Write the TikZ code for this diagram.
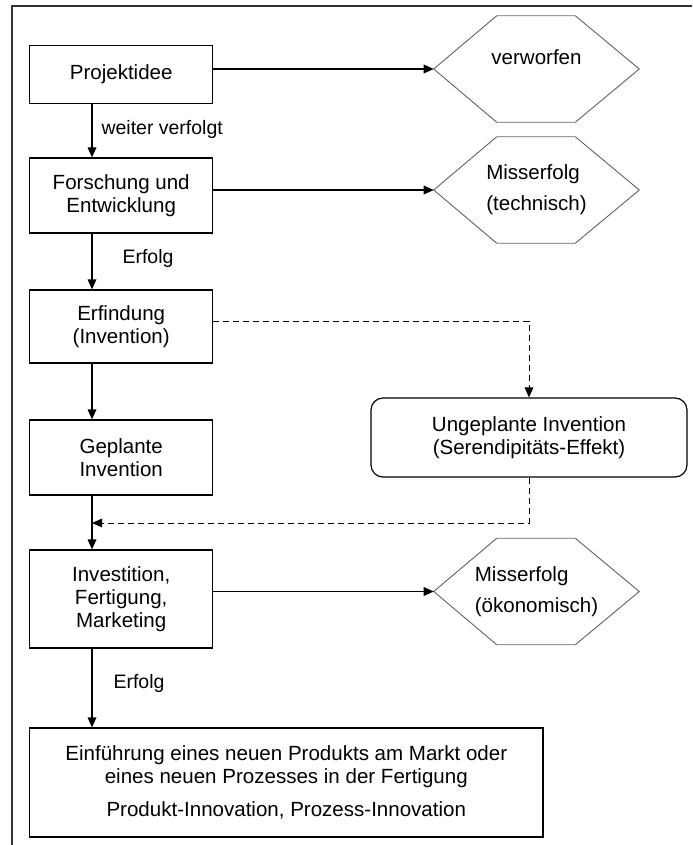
\documentclass[tikz,border=0pt]{standalone}
\usepackage{fontspec}
\setmainfont{Liberation Sans}
\usetikzlibrary{arrows.meta}

\begin{document}
\begin{tikzpicture}[x=0.75pt,y=-0.75pt,
  txt/.style={font=\fontsize{15.4}{17.25}\selectfont},
  lbl/.style={font=\fontsize{14.6}{17}\selectfont, anchor=west, inner sep=0pt},
  box/.style={txt, draw=black, line width=0.9pt, minimum width=137.25pt,
    align=center, inner sep=0pt},
  hexa/.style={txt, minimum width=153.75pt, minimum height=79.5pt,
    align=left, inner sep=0pt},
  hexline/.style={draw=black!60, line width=0.7pt},
  roundbox/.style={txt, draw=black, line width=0.9pt, rounded corners=9pt,
    minimum width=237pt, minimum height=59.25pt, align=center, inner sep=0pt},
  arr/.style={draw=black, line width=0.9pt, -{Triangle[length=7.5pt,width=6.5pt]}},
  dasharr/.style={draw=black, line width=0.75pt, dash pattern=on 4.5pt off 3pt,
    -{Triangle[length=7.5pt,width=6.5pt]}},
  frame/.style={draw=black!80, line width=1pt}
]
\useasboundingbox (0,0) rectangle (692,845);

% outer frame (left and top edges)
\draw[frame] (12,845) -- (12,6) -- (692,6);

% main process column
\node[box, minimum height=43.2pt] (idee) at (121.2,74.5) {Projektidee};
\node[box, minimum height=56.25pt] (fue) at (121.2,195.5) {Forschung und\\Entwicklung};
\node[box, minimum height=54.75pt] (erf) at (121.2,326.5) {Erfindung\\(Invention)};
\node[box, minimum height=56.25pt] (gepl) at (121.2,457.5) {Geplante\\Invention};
\node[box, minimum height=73.5pt] (inv) at (121.2,599) {Investition,\\Fertigung,\\Marketing};
\node[box, minimum width=385pt, minimum height=81.75pt] (markt) at (286.3,782.5)
  {Einführung eines neuen Produkts am Markt oder\\eines neuen Prozesses in der Fertigung\\[8pt]Produkt-Innovation, Prozess-Innovation};

% outcomes (hexagon outlines are drawn around the text nodes below)
\node[hexa] (verw) at (536.5,69) {verworfen\\[-4pt]\strut};
\node[hexa] (mtech) at (536.5,190) {Misserfolg\\[6pt](technisch)};
\node[hexa] (moek) at (536.5,591.5) {Misserfolg\\[6pt](ökonomisch)};
\node[roundbox] (ungepl) at (529,437.5) {Ungeplante Invention\\(Serendipitäts-Effekt)};

\foreach \h in {verw,mtech,moek}
  \draw[hexline] (\h.west) -- ([xshift=47.25pt]\h.north west)
    -- ([xshift=-48pt]\h.north east) -- (\h.east)
    -- ([xshift=-48pt]\h.south east) -- ([xshift=47.25pt]\h.south west) -- cycle;

% helper points on the main flow line
\coordinate (spine) at (92,0);
\coordinate (merge) at (92,523);

% vertical flow
\draw[arr] (idee.south -| spine) -- node[lbl, xshift=6.75pt, pos=0.48] {weiter verfolgt} (fue.north -| spine);
\draw[arr] (fue.south -| spine) -- node[lbl, xshift=22.5pt, pos=0.45] {Erfolg} (erf.north -| spine);
\draw[arr] (erf.south -| spine) -- (gepl.north -| spine);
\draw[arr] (gepl.south -| spine) -- (inv.north -| spine);
\draw[arr] (inv.south -| spine) -- node[lbl, xshift=15.75pt, pos=0.44] {Erfolg} (markt.north -| spine);

% branches to the outcomes
\draw[arr] (verw.west -| idee.east) -- (verw.west);
\draw[arr] (mtech.west -| fue.east) -- (mtech.west);
\draw[arr] (moek.west -| inv.east) -- (moek.west);

% unplanned invention path
\draw[dasharr] ([yshift=4pt]erf.east) -| (ungepl.north);
\draw[dasharr] (ungepl.south) |- (merge);
\end{tikzpicture}
\end{document}
